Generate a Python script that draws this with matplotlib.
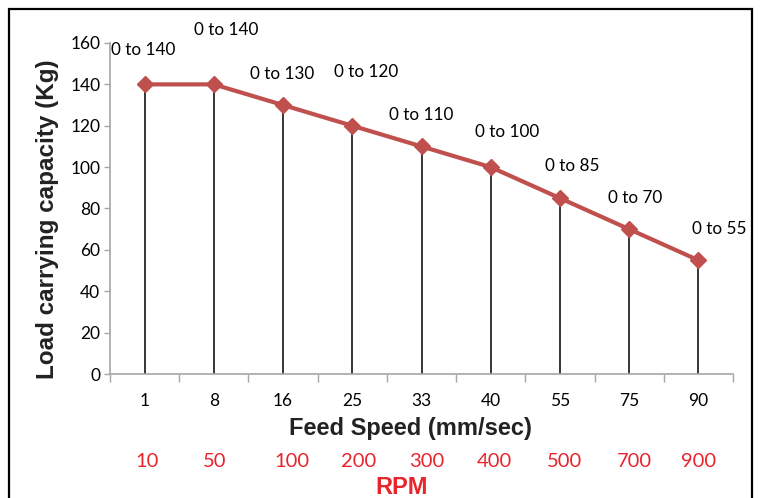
import matplotlib
matplotlib.use("Agg")
import matplotlib.pyplot as plt
from matplotlib.patches import Rectangle
from matplotlib.transforms import blended_transform_factory, offset_copy

# data
speeds = ["1", "8", "16", "25", "33", "40", "55", "75", "90"]
rpm = ["10", "50", "100", "200", "300", "400", "500", "700", "900"]
load = [140, 140, 130, 120, 110, 100, 85, 70, 55]
range_labels = ["0 to 140", "0 to 140", "0 to 130", "0 to 120", "0 to 110",
                "0 to 100", "0 to 85", "0 to 70", "0 to 55"]

# label offsets in pixels (dx, dy) from each point
lab_off = [(-1, 34), (12, 54), (-1, 31), (14, 54), (0, 31),
           (16, 35), (12, 32), (6, 31), (21, 31)]
rpm_dx = [2, 1, 9, 6, 5, 4, 5, 5, 0]

RED = "#C0504D"; GRAY = "#A6A6A6"; RPMRED = "#E8242C"
BODY = "Lato"; HEAD = "Liberation Sans"

fig = plt.figure(figsize=(7.6, 4.98), dpi=100)
ax = fig.add_axes([110/760, 124/498, 623/760, 331/498])
x = list(range(len(speeds)))

ax.vlines(x, 0, load, color="black", lw=1.1, zorder=2)
ax.plot(x, load, color=RED, lw=3, marker="D", ms=8.5, zorder=3)

for i, (lab, (dx, dy)) in enumerate(zip(range_labels, lab_off)):
    ax.annotate(lab, (x[i], load[i]), xytext=(dx, dy), textcoords="offset pixels",
                ha="center", va="center", fontsize=12.3, family=BODY)

ax.set_xlim(-0.5, len(speeds) - 0.5)
ax.set_ylim(0, 160)
ax.set_yticks(range(0, 161, 20))
ax.set_xticks([i - 0.5 for i in range(len(speeds) + 1)])
ax.set_xticklabels([])
ax.set_xticks(x, minor=True)
ax.set_xticklabels(speeds, minor=True)
ax.tick_params(axis="x", which="major", length=6, color=GRAY, width=1)
ax.tick_params(axis="x", which="minor", length=0, pad=13.5, labelsize=12.5)
ax.tick_params(axis="y", length=4, color=GRAY, width=1, pad=3, labelsize=12.5)
for lbl in ax.get_xticklabels(minor=True) + ax.get_yticklabels():
    lbl.set_family(BODY)

for sp in ("top", "right"):
    ax.spines[sp].set_visible(False)
for sp in ("left", "bottom"):
    ax.spines[sp].set_color(GRAY)
    ax.spines[sp].set_linewidth(1.2)

fig.text(48/760, 1 - 219/498, "Load carrying capacity (Kg)", rotation=90,
         ha="center", va="center", fontsize=17.5, fontweight="bold",
         family=HEAD, color="#222222")
fig.text(410/760, 1 - 428/498, "Feed Speed (mm/sec)", ha="center", va="center",
         fontsize=17, fontweight="bold", family=HEAD, color="#222222")

tr = blended_transform_factory(ax.transData, fig.transFigure)
for i, (r, dx) in enumerate(zip(rpm, rpm_dx)):
    ax.text(x[i], 1 - 461/498, r, transform=offset_copy(tr, fig=fig, x=dx, units="dots"),
            ha="center", va="center", fontsize=14.5, family=BODY, color=RPMRED)
fig.text(402/760, 1 - 487/498, "RPM", ha="center", va="center",
         fontsize=17, fontweight="bold", family=HEAD, color=RPMRED)

# outer frame
fig.patches.append(Rectangle((8.5/760, -0.05), (752 - 8.5)/760, 1.05 - 9/498,
                             transform=fig.transFigure, fill=False,
                             edgecolor="black", lw=1.6))

fig.savefig("out.png", dpi=100)
